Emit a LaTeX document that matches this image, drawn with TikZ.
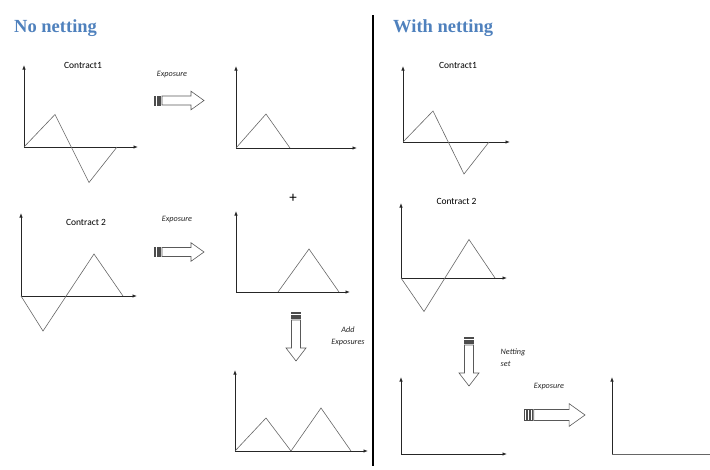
\documentclass[tikz,border=0pt]{standalone}
\usepackage{fontspec}
\setmainfont{Carlito}
\newfontfamily\titlefont{Liberation Serif}
\usetikzlibrary{arrows.meta}
\definecolor{headblue}{HTML}{4F81BD}
\tikzset{
  axis/.style={draw=black!85, line width=0.8pt, -{Latex[length=4.5pt,width=3.5pt]}},
  plainaxis/.style={draw=black!60, line width=0.8pt},
  curve/.style={draw=black!60, line width=0.6pt, line join=miter},
  title/.style={font=\titlefont\fontsize{18.5}{20}\selectfont\bfseries, text=headblue, inner sep=0pt},
  lbl/.style={font=\fontsize{9.5}{11}\selectfont, inner sep=0pt},
  ital/.style={font=\fontsize{8.2}{12.5}\selectfont\itshape, inner sep=0pt, text=black!85},
  arrbox/.style={draw=black!65, fill=white, line width=0.6pt, line join=miter},
  barbox/.style={draw=black!70, fill=white, line width=0.5pt},
  rstripe/.pic={
    \draw[barbox] (0.3,-4.5) rectangle (1.6,4.5);
    \draw[barbox] (2.8,-4.5) rectangle (4.1,4.5);
    \draw[barbox] (5.3,-4.5) rectangle (6.6,4.5);
    \draw[arrbox] (8,-4.5) -- (37,-4.5) -- (37,-9.3) -- (50,0) -- (37,9.3) -- (37,4.5) -- (8,4.5) -- cycle;
  },
  dstripe/.pic={
    \draw[barbox] (-4.5,0.3) rectangle (4.5,1.6);
    \draw[barbox] (-4.5,2.8) rectangle (4.5,4.1);
    \draw[barbox] (-4.5,5.3) rectangle (4.5,6.6);
    \draw[arrbox] (-4.5,8) -- (-4.5,36) -- (-10,36) -- (0,49) -- (10,36) -- (4.5,36) -- (4.5,8) -- cycle;
  }
}
\begin{document}
\begin{tikzpicture}[x=1pt,y=-1pt]
\useasboundingbox (0,0) rectangle (710,469);

% titles
\node[title, anchor=base west] (tl) at (14,32) {No netting};
\node[title, anchor=base west] (tr) at (393,32) {With netting};

% divider
\coordinate (d1) at (373,15);
\coordinate (d2) at (373,466);
\draw[line width=1.6pt] (d1) -- (d2);

% ---------- left: contract 1
\coordinate (o1) at (24,147);
\draw[axis] (o1) -- (24,65);
\draw[axis] (o1) -- (138,147);
\draw[curve] (o1) -- (55,114.5) -- (89,182.5) -- (117,147);
\node[lbl] (c1) at (83,65) {Contract1};

% exposure arrow 1
\node[ital] (e1) at (172,75) {Exposure};
\pic at (154,100.5) {rstripe};

% middle chart 1
\coordinate (o2) at (236,148);
\draw[axis] (o2) -- (236,66);
\draw[axis] (o2) -- (357,148);
\draw[curve] (o2) -- (266,114) -- (290,148);

\node[font=\fontsize{15}{15}\selectfont, inner sep=0pt] (plus) at (293,198) {+};

% ---------- left: contract 2
\coordinate (o3) at (21,296);
\draw[axis] (o3) -- (21,213);
\draw[axis] (o3) -- (137,296);
\draw[curve] (o3) -- (43,331) -- (94,254) -- (123,296);
\node[lbl] (c2) at (86,222.5) {Contract 2};

% exposure arrow 2
\node[ital] (e2) at (177,220) {Exposure};
\pic at (154,252) {rstripe};

% middle chart 2
\coordinate (o4) at (236,292);
\draw[axis] (o4) -- (236,211);
\draw[axis] (o4) -- (350,292);
\draw[curve] (278,292) -- (309,249) -- (339,292);

% add exposures arrow
\pic at (296,312) {dstripe};
\node[ital, align=center] (add) at (348,336.5) {Add\\Exposures};

% bottom chart
\coordinate (o5) at (235,451);
\draw[axis] (o5) -- (235,370);
\draw[axis] (o5) -- (368,451);
\draw[curve] (o5) -- (266,418) -- (291,451) -- (321,408) -- (351,451);

% ---------- right: contract 1
\coordinate (o6) at (403,142);
\draw[axis] (o6) -- (403,66);
\draw[axis] (o6) -- (510,142);
\draw[curve] (o6) -- (433,111) -- (464,174) -- (489,142);
\node[lbl] (c3) at (458,65) {Contract1};

% right: contract 2
\coordinate (o7) at (401,278);
\draw[axis] (o7) -- (401,203);
\draw[axis] (o7) -- (507,278);
\draw[curve] (o7) -- (424,311.5) -- (469,239.5) -- (495,278);
\node[lbl] (c4) at (456.5,201.5) {Contract 2};

% netting set arrow
\pic at (469,337) {dstripe};
\node[ital, align=left, anchor=west] (net) at (500.5,357.5) {Netting\\set};

% bottom-left chart (right side)
\coordinate (o8) at (401,454);
\draw[axis] (o8) -- (401,377);
\draw[axis] (o8) -- (507,454);

% exposure arrow 3
\node[ital] (e3) at (549,386.5) {Exposure};
\pic[scale=1.22] at (524,415) {rstripe};

% bottom-right chart
\coordinate (o9) at (612,454);
\draw[axis] (o9) -- (612,377);
\draw[plainaxis] (o9) -- (710,454);

\end{tikzpicture}
\end{document}
